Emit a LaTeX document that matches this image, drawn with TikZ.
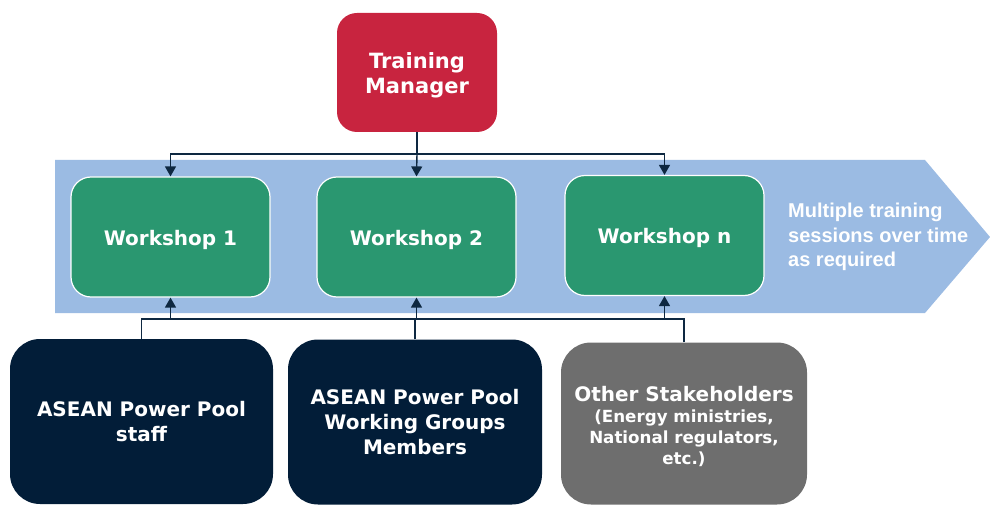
\documentclass[tikz,border=0pt]{standalone}
\usepackage{fontspec}
\setmainfont{DejaVu Sans}
\newfontfamily\sidefont{Liberation Sans}
\usetikzlibrary{arrows.meta}
\definecolor{tmred}{HTML}{C8243F}
\definecolor{band}{HTML}{9BBBE3}
\definecolor{wsgreen}{HTML}{2A9770}
\definecolor{navy}{HTML}{021D38}
\definecolor{stgrey}{HTML}{6E6E6E}
\definecolor{conn}{HTML}{0E2841}
\newcommand{\lowerby}{\rule{0pt}{21pt}}
\begin{document}
\begin{tikzpicture}[x=1pt,y=-1pt,
  box/.style={rounded corners=20pt, align=center, text=white, font=\bfseries\fontsize{20}{25}\selectfont, inner sep=0pt},
  wsbox/.style={box, fill=wsgreen, draw=white, line width=1.2pt, minimum width=199pt, minimum height=120pt},
  bigbox/.style={box, rounded corners=30pt, minimum height=165pt, font=\bfseries\fontsize{20}{25}\selectfont},
  conline/.style={draw=conn, line width=1.4pt},
  arr/.style={conline, -{Triangle[width=11pt,length=10pt]}}]
\useasboundingbox (0,0) rectangle (990,505);
% band arrow
\fill[band] (55,160) -- (925,160) -- (990,237) -- (925,313) -- (55,313) -- cycle;
% nodes
\node[box, fill=tmred, minimum width=160pt, minimum height=119pt, font=\bfseries\fontsize{21}{25}\selectfont] (tm) at (417,72.5) {\lowerby Training\\Manager};
\node[wsbox] (w1) at (170.5,237) {\lowerby Workshop 1};
\node[wsbox] (w2) at (416.5,237) {\lowerby Workshop 2};
\node[wsbox] (wn) at (664.5,235.5) {\lowerby Workshop n};
\node[anchor=west, align=left, text=white, font=\sidefont\bfseries\fontsize{20}{24.5}\selectfont, inner sep=0pt] (side) at (788,237) {Multiple training\\sessions over time\\as required};
\node[bigbox, fill=navy, minimum width=263pt] (s1) at (141.5,421.5) {ASEAN Power Pool\\staff};
\node[bigbox, fill=navy, minimum width=254pt] (s2) at (415,422) {ASEAN Power Pool\\Working Groups\\Members};
\node[bigbox, fill=stgrey, minimum width=246pt, minimum height=162pt] (s3) at (684,423.5) {\rule{0pt}{22pt}Other Stakeholders\\[-4pt]{\fontsize{16.7}{21}\selectfont (Energy ministries,}\\[-4pt]{\fontsize{16.7}{21}\selectfont National regulators,}\\[-4pt]{\fontsize{16.7}{21}\selectfont etc.)}};
% top connectors
\coordinate (tj) at (417,154);
\draw[conline] (tm.south) -- (tj);
\draw[arr] (tj) -| (w1.north);
\draw[arr] (tj) -- (w2.north);
\draw[arr] (tj) -| (wn.north);
% bottom connectors
\coordinate (bj) at (415,319);
\draw[conline] (s1.north) |- (bj);
\draw[conline] (s3.north) |- (bj);
\draw[conline] (s2.north) -- (bj);
\draw[arr] (bj) -| (w1.south);
\draw[arr] (bj) -| (w2.south);
\draw[arr] (bj) -| (wn.south);
\end{tikzpicture}
\end{document}
